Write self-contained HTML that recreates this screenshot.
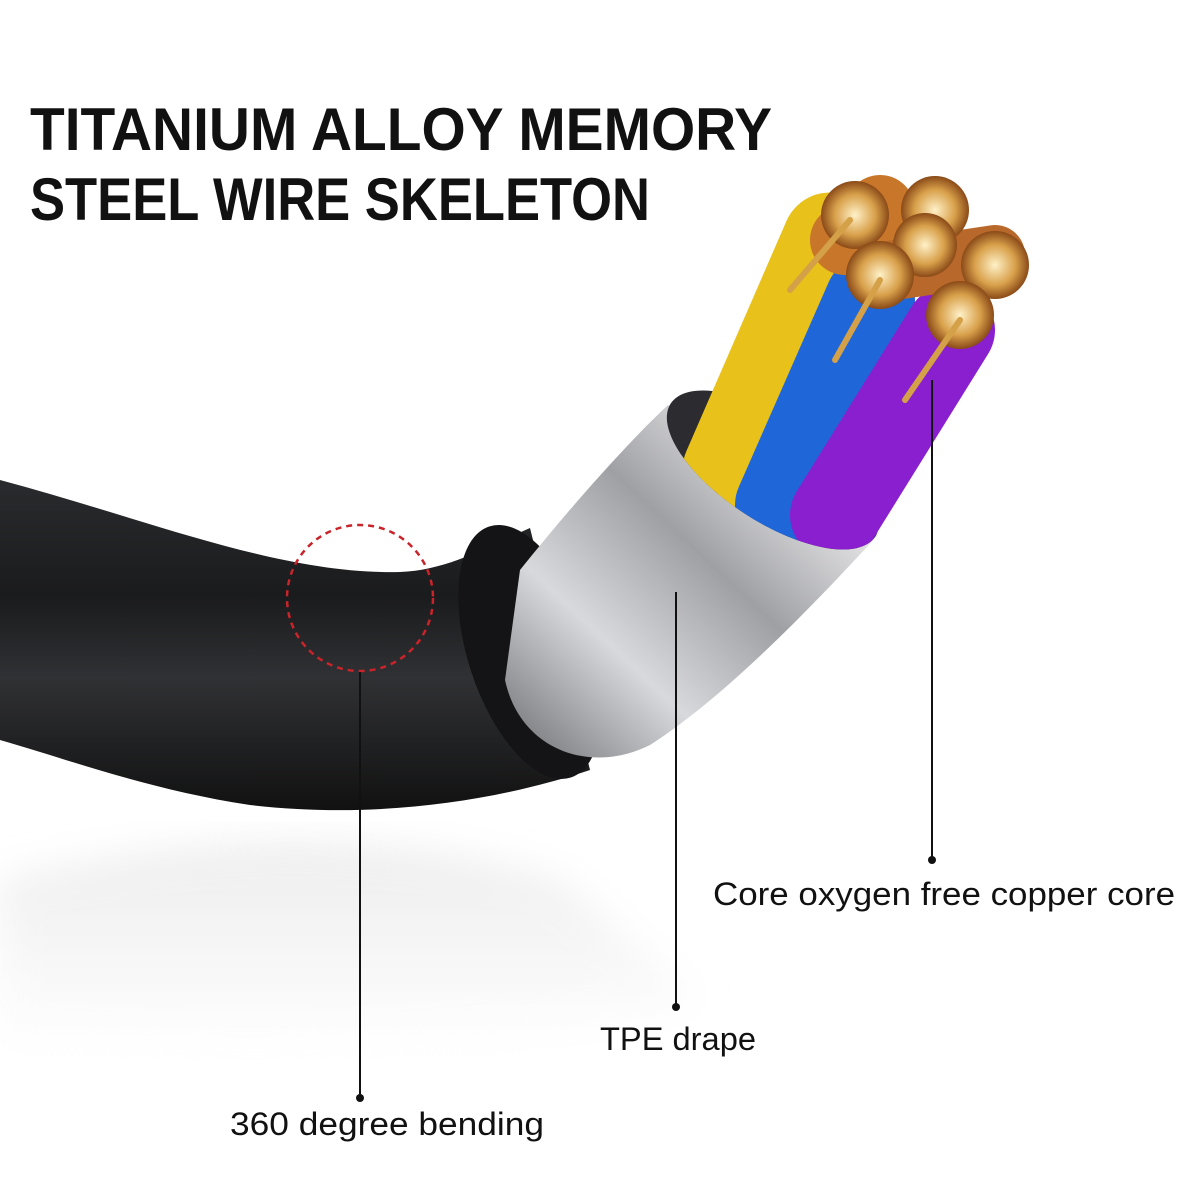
<!DOCTYPE html>
<html><head><meta charset="utf-8">
<style>
html,body{margin:0;padding:0;background:#fff;}
svg{display:block}
</style></head>
<body>
<svg width="1200" height="1200" viewBox="0 0 1200 1200" xmlns="http://www.w3.org/2000/svg">
<defs>
<linearGradient id="blk" x1="0" y1="0" x2="0" y2="1">
<stop offset="0" stop-color="#2a2b2e"/><stop offset="0.35" stop-color="#1a1b1d"/><stop offset="0.6" stop-color="#303134"/><stop offset="1" stop-color="#111"/>
</linearGradient>
<linearGradient id="sil" x1="0" y1="1" x2="1" y2="0">
<stop offset="0" stop-color="#6d6e72"/><stop offset="0.3" stop-color="#d8d9dc"/><stop offset="0.55" stop-color="#9fa0a4"/><stop offset="0.8" stop-color="#e4e4e6"/><stop offset="1" stop-color="#8a8b8f"/>
</linearGradient>
<radialGradient id="cu"><stop offset="0" stop-color="#fff1c8"/><stop offset="0.6" stop-color="#d8a04a"/><stop offset="1" stop-color="#8a4a18"/></radialGradient>
<linearGradient id="refl" x1="0" y1="0" x2="0" y2="1">
<stop offset="0" stop-color="#e2e2e2"/><stop offset="1" stop-color="#fff"/>
</linearGradient>
<filter id="bl"><feGaussianBlur stdDeviation="18"/></filter>
<clipPath id="wc">
<ellipse cx="773" cy="470" rx="122" ry="52" transform="rotate(33 773 470)"/>
<polygon points="671,404 875,536 1200,536 1200,0 600,0"/>
</clipPath>
</defs>

<path d="M0,880 C200,830 400,830 560,880 L700,1000 C500,1060 200,1060 0,1040 Z" fill="url(#refl)" filter="url(#bl)" opacity="0.6"/>

<path d="M0,480 C150,520 280,575 400,572 C450,570 490,545 530,528 L590,770 C500,800 380,820 250,805 C150,790 70,760 0,740 Z" fill="url(#blk)"/>
<ellipse cx="530" cy="652" rx="62" ry="132" transform="rotate(-18 530 652)" fill="#141416"/>
<path d="M520,570 C560,520 620,450 668,405 L878,535 C800,620 720,700 650,745 C590,775 520,750 505,680 Z" fill="url(#sil)"/>
<ellipse cx="773" cy="470" rx="122" ry="52" transform="rotate(33 773 470)" fill="#2b2b30"/>

<g clip-path="url(#wc)">
<g stroke-linecap="round" fill="none">
<line x1="730" y1="470" x2="830" y2="240" stroke="#e8c21a" stroke-width="95"/>
<line x1="780" y1="505" x2="870" y2="300" stroke="#1f66d8" stroke-width="90"/>
<line x1="835" y1="515" x2="950" y2="330" stroke="#8a1fd0" stroke-width="90"/>
<line x1="845" y1="240" x2="880" y2="210" stroke="#c8762a" stroke-width="70"/>
<line x1="895" y1="270" x2="995" y2="255" stroke="#b8682a" stroke-width="60"/>
</g>
<g fill="url(#cu)">
<circle cx="855" cy="215" r="34"/><circle cx="935" cy="210" r="34"/>
<circle cx="925" cy="245" r="32"/><circle cx="995" cy="265" r="34"/>
<circle cx="880" cy="275" r="34"/><circle cx="960" cy="315" r="34"/>
</g>
<g stroke="#d4a048" stroke-width="6" stroke-linecap="round">
<line x1="835" y1="360" x2="880" y2="280"/><line x1="905" y1="400" x2="960" y2="320"/>
<line x1="790" y1="290" x2="850" y2="220"/>
</g>
</g>

<circle cx="360" cy="598" r="73" fill="none" stroke="#c8242a" stroke-width="2.5" stroke-dasharray="6 5"/>

<g stroke="#111" stroke-width="2">
<line x1="360" y1="672" x2="360" y2="1098"/>
<line x1="676" y1="592" x2="676" y2="1007"/>
<line x1="932" y1="380" x2="932" y2="860"/>
</g>
<g fill="#111">
<circle cx="360" cy="1098" r="4"/><circle cx="676" cy="1007" r="4"/><circle cx="932" cy="860" r="4"/>
</g>

<g font-family="Liberation Sans, sans-serif" fill="#111">
<text x="30" y="150" font-size="60" font-weight="bold" textLength="742" lengthAdjust="spacingAndGlyphs">TITANIUM ALLOY MEMORY</text>
<text x="30" y="220" font-size="60" font-weight="bold" textLength="620" lengthAdjust="spacingAndGlyphs">STEEL WIRE SKELETON</text>
<text x="713" y="905" font-size="32" textLength="462" lengthAdjust="spacingAndGlyphs">Core oxygen free copper core</text>
<text x="600" y="1050" font-size="32" textLength="156" lengthAdjust="spacingAndGlyphs">TPE drape</text>
<text x="230" y="1135" font-size="32" textLength="314" lengthAdjust="spacingAndGlyphs">360 degree bending</text>
</g>
</svg>
</body></html>
